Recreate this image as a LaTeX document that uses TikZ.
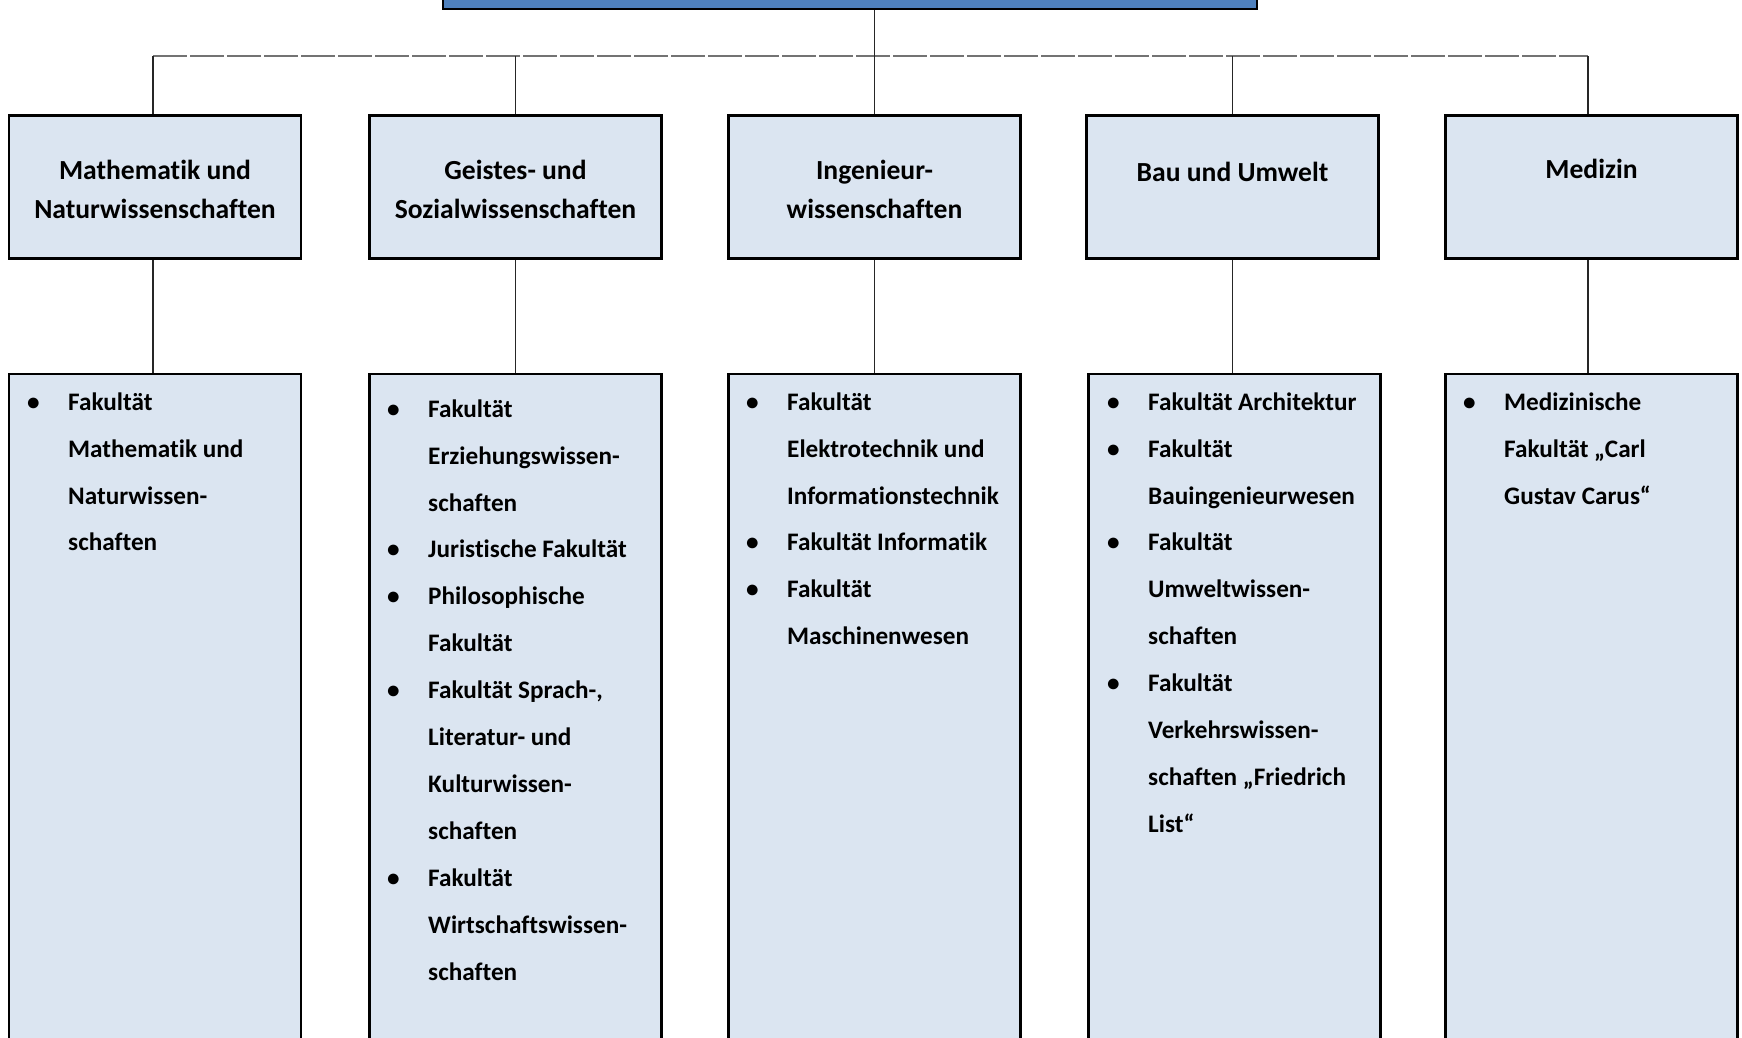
\documentclass[tikz,border=0pt]{standalone}
\usepackage{fontspec}
\setmainfont{Carlito}[Ligatures=NoCommon]
\definecolor{boxfill}{HTML}{DBE5F1}
\definecolor{topfill}{HTML}{4F81BD}
\newcommand{\bl}{\makebox[41pt][l]{\hspace*{0pt}\textbullet}}
\newcommand{\ind}{\hspace*{41pt}}
\newcommand{\fs}{\rule{0pt}{26pt}}
\begin{document}
\begin{tikzpicture}[x=1pt,y=-1pt,
  topbox/.style={draw=black, line width=2.5pt, fill=topfill, minimum width=814pt, minimum height=40pt, inner sep=0pt},
  hbox/.style={draw=black, line width=2.5pt, fill=boxfill, minimum width=292pt, minimum height=143pt, inner sep=0pt},
  lbox/.style={draw=black, line width=2.5pt, fill=boxfill, minimum width=292pt, minimum height=700pt, inner sep=0pt},
  conn/.style={draw=black!85, line width=1.3pt},
  bus/.style={draw=black!55, line width=1.4pt, dash pattern=on 34pt off 3pt},
  htext/.style={font=\bfseries\fontsize{27.6}{39}\selectfont, align=center, anchor=north, inner sep=0pt},
  ltext/.style={font=\bfseries\fontsize{25.2}{46.9}\selectfont, align=left, anchor=north west, inner sep=0pt}]
\useasboundingbox (0,0) rectangle (1742,1037);
\clip (0,0) rectangle (1742,1037);
\fill[white] (0,0) rectangle (1742,1037);

\node[topbox] (uni) at (850,-11) {};

\node[hbox] (h1) at (155,187) {};
\node[hbox] (h2) at (515.5,187) {};
\node[hbox] (h3) at (874.5,187) {};
\node[hbox] (h4) at (1232.5,187) {};
\node[hbox] (h5) at (1591.5,187) {};

\node[lbox] (l1) at (155,724) {};
\node[lbox] (l2) at (515.5,724) {};
\node[lbox] (l3) at (874.5,724) {};
\node[lbox] (l4) at (1234.5,724) {};
\node[lbox] (l5) at (1591.5,724) {};

\coordinate (busL) at (153,56);
\coordinate (busR) at (1588,56);
\draw[bus] (busL) -- (busR);
\draw[conn] (uni.south -| h3.north) -- (h3.north);
\draw[conn] (busL) -- (busL |- h1.north);
\draw[conn] (busL -| h2.north) -- (h2.north);
\draw[conn] (busL -| h4.north) -- (h4.north);
\draw[conn] (busR) -- (busR |- h5.north);
\draw[conn] (busL |- h1.south) -- (busL |- l1.north);
\foreach \n in {2,3,4} {
  \draw[conn] (h\n.south) -- (h\n.south |- l\n.north);
}
\draw[conn] (busR |- h5.south) -- (busR |- l5.north);

\node[htext] (t1) at (155,153) {\fs Mathematik und\\Naturwissenschaften};
\node[htext] (t2) at (515.5,153) {\fs Geistes- und\\Sozialwissenschaften};
\node[htext] (t3) at (874.5,153) {\fs Ingenieur-\\wissenschaften};
\node[htext] (t4) at (1232.5,155) {\fs Bau und Umwelt};
\node[htext] (t5) at (1591.5,152) {\fs Medizin};

\node[ltext] (i1) at (27,384) {\fs\bl Fakultät\\\ind Mathematik und\\\ind Naturwissen-\\\ind schaften};
\node[ltext] (i2) at (387,391) {\fs\bl Fakultät\\\ind Erziehungswissen-\\\ind schaften\\\bl Juristische Fakultät\\\bl Philosophische\\\ind Fakultät\\\bl Fakultät Sprach-,\\\ind Literatur- und\\\ind Kulturwissen-\\\ind schaften\\\bl Fakultät\\\ind Wirtschaftswissen-\\\ind schaften};
\node[ltext] (i3) at (746,384) {\fs\bl Fakultät\\\ind Elektrotechnik und\\\ind Informationstechnik\\\bl Fakultät Informatik\\\bl Fakultät\\\ind Maschinenwesen};
\node[ltext] (i4) at (1107,384) {\fs\bl Fakultät Architektur\\\bl Fakultät\\\ind Bauingenieurwesen\\\bl Fakultät\\\ind Umweltwissen-\\\ind schaften\\\bl Fakultät\\\ind Verkehrswissen-\\\ind schaften „Friedrich\\\ind List“};
\node[ltext] (i5) at (1463,384) {\fs\bl Medizinische\\\ind Fakultät „Carl\\\ind Gustav Carus“};
\end{tikzpicture}
\end{document}
